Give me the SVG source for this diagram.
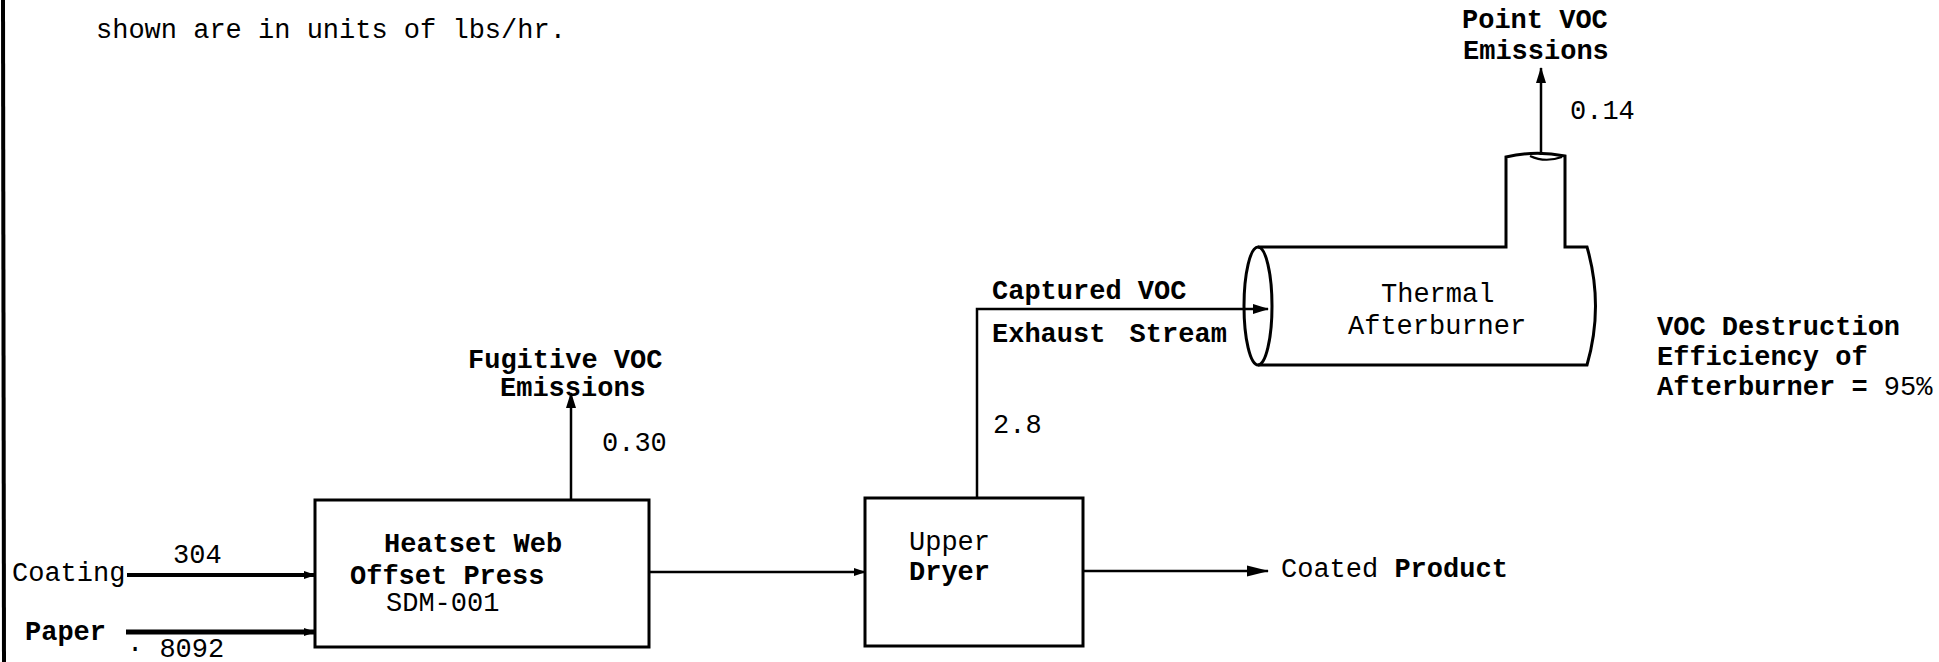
<svg xmlns="http://www.w3.org/2000/svg" width="1939" height="662" viewBox="0 0 1939 662">
<style>
text{font-family:"Liberation Mono","DejaVu Sans Mono",monospace;font-size:27px;fill:#000}
.b{font-weight:bold}
.box{fill:none;stroke:#000;stroke-width:3}
.ln{fill:none;stroke:#000;stroke-width:2.5}
</style>
<defs>
<marker id="ah" markerUnits="userSpaceOnUse" markerWidth="16" markerHeight="12" refX="15" refY="6" orient="auto">
<path d="M0,1 L16,6 L0,11 Z" fill="#000"/>
</marker>
<marker id="ahs" markerUnits="userSpaceOnUse" markerWidth="12" markerHeight="10" refX="11" refY="5" orient="auto">
<path d="M0,1 L12,5 L0,9 Z" fill="#000"/>
</marker>
<marker id="ahl" markerUnits="userSpaceOnUse" markerWidth="22" markerHeight="14" refX="21" refY="7" orient="auto">
<path d="M0,1.5 L22,7 L0,12.5 Z" fill="#000"/>
</marker>
</defs>
<line x1="3" y1="0" x2="4" y2="662" stroke="#000" stroke-width="4"/>
<text x="96" y="38">shown are in units of lbs/hr.</text>

<g id="press">
<rect class="box" x="315" y="500" width="334" height="147"/>
<text class="b" x="384" y="552">Heatset Web</text>
<text class="b" x="350" y="584">Offset Press</text>
<text x="386" y="611">SDM-001</text>
</g>
<g id="dryer">
<rect class="box" x="865" y="498" width="218" height="148"/>
<text x="909" y="550">Upper</text>
<text class="b" x="909" y="580">Dryer</text>
</g>
<g id="afterburner">
<path class="box" d="M1258,247 L1506,247 L1506,157 Q1535,150 1565,156 L1565,247 L1587,247 Q1604,306 1587,365 L1258,365"/>
<ellipse class="box" cx="1258" cy="306" rx="14" ry="59"/>
<path d="M1530,156 Q1545,163 1562,157" fill="none" stroke="#000" stroke-width="2"/>
<text x="1381" y="302">Thermal</text>
<text x="1348" y="334">Afterburner</text>
</g>
<g id="inputs">
<text x="12" y="581">Coating</text>
<text x="173" y="563">304</text>
<text class="b" x="25" y="640">Paper</text>
<text x="127" y="657">· 8092</text>
</g>
<g id="fugitive">
<text class="b" x="468" y="368">Fugitive VOC</text>
<text class="b" x="500" y="396">Emissions</text>
<text x="602" y="451">0.30</text>
</g>
<g id="point">
<text class="b" x="1462" y="28">Point VOC</text>
<text class="b" x="1463" y="59">Emissions</text>
<text x="1570" y="119">0.14</text>
</g>
<g id="captured">
<text class="b" x="992" y="299">Captured VOC</text>
<text class="b" x="992" y="342" word-spacing="8">Exhaust Stream</text>
<text x="993" y="433">2.8</text>
</g>
<g id="product">
<text x="1281" y="577">Coated <tspan class="b">Product</tspan></text>
</g>
<g id="efficiency">
<text class="b" x="1657" y="335">VOC Destruction</text>
<text class="b" x="1657" y="365">Efficiency of</text>
<text x="1657" y="395"><tspan class="b">Afterburner = </tspan> 95%</text>
</g>
<g id="connectors">
<line x1="127" y1="575" x2="315" y2="575" stroke="#000" stroke-width="4" marker-end="url(#ahs)"/>
<line x1="126" y1="632" x2="315" y2="632" stroke="#000" stroke-width="5" marker-end="url(#ahs)"/>
<line class="ln" x1="571" y1="500" x2="571" y2="393" marker-end="url(#ah)"/>
<line class="ln" x1="649" y1="572" x2="865" y2="572" marker-end="url(#ahs)"/>
<line class="ln" x1="1083" y1="571" x2="1268" y2="571" marker-end="url(#ahl)"/>
<polyline class="ln" points="977,498 977,309 1268,309" marker-end="url(#ah)"/>
<line class="ln" x1="1541" y1="155" x2="1541" y2="68" marker-end="url(#ah)"/>
</g>
</svg>
